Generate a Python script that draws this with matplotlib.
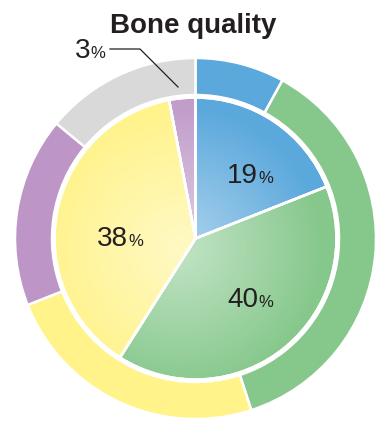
import numpy as np
import matplotlib.pyplot as plt
from matplotlib.patches import Circle

# inner pie: share of each group, clockwise from 12 o'clock
inner_labels = ["blue", "green", "yellow", "purple"]
inner_values = [19, 40, 38, 3]
inner_colors = ["#5ba8dc", "#86c88c", "#fff38a", "#c19dca"]

# outer ring
outer_labels = ["blue", "green", "yellow", "purple", "gray"]
outer_values = [8, 37, 24, 17, 14]
outer_colors = ["#5ba8dc", "#86c88c", "#fff38a", "#bd95c6", "#d9d9d9"]

# where the number of each inner slice is written (right edge of digits, baseline)
label_pos = [(62.5, 55.5), (62.5, -68.5), (-67.5, -7.5), (-105.5, 180.5)]

W, H = 375, 421
cx, cy = 195.5, 238.5
R_out = 180.5
R_in = 143.5


def set_frame(ax):
    ax.set_xlim(-cx, W - cx)
    ax.set_ylim(-(H - cy), cy)
    ax.set_aspect("auto")


fig = plt.figure(figsize=(W / 100, H / 100), dpi=100)
ax = fig.add_axes([0, 0, 1, 1])
ax.axis("off")

# outer ring
ax.pie(outer_values, radius=R_out, colors=outer_colors, startangle=90,
       counterclock=False, wedgeprops=dict(width=R_out - R_in,
                                           edgecolor="white", linewidth=1.8))
# inner pie
ax.pie(inner_values, radius=R_in - 2.5, colors=inner_colors, startangle=90,
       counterclock=False, wedgeprops=dict(edgecolor="white", linewidth=1.8,
                                           zorder=2))
set_frame(ax)

# soft white glow toward the middle of the inner pie
n = 400
xs = np.linspace(-R_in, R_in, n)
gx, gy = np.meshgrid(xs, xs)
rr = np.hypot(gx + 15, gy + 10) / R_in
glow = np.zeros((n, n, 4))
glow[..., :3] = 1.0
glow[..., 3] = np.clip(0.5 * (1 - rr), 0, 1)
im = ax.imshow(glow, extent=(-R_in, R_in, -R_in, R_in), origin="lower",
               zorder=3, interpolation="bilinear")
im.set_clip_path(Circle((0, 0), R_in - 3.5, transform=ax.transData))

# white separators above the glow
sep, _ = ax.pie(inner_values, radius=R_in - 2.5, startangle=90,
                counterclock=False,
                wedgeprops=dict(edgecolor="white", linewidth=1.8,
                                facecolor="none", zorder=4))
set_frame(ax)

font = "Liberation Sans"
for v, (x, y) in zip(inner_values, label_pos):
    ax.text(x, y, str(v), ha="right", va="baseline", fontsize=20,
            family=font, color="#231f20", zorder=6)
    ax.text(x, y, "%", ha="left", va="baseline", fontsize=12,
            family=font, color="#231f20", zorder=6)

# leader line for the small purple slice
ax.plot([-85.5, -55.5, -17.5], [189.5, 189.5, 151.5], color="#231f20",
        lw=0.9, zorder=6)

ax.text(-2, 205.5, "Bone quality", ha="center", va="baseline", fontsize=20,
        family=font, fontweight="bold", color="#231f20")

fig.savefig("out.png", dpi=100)
